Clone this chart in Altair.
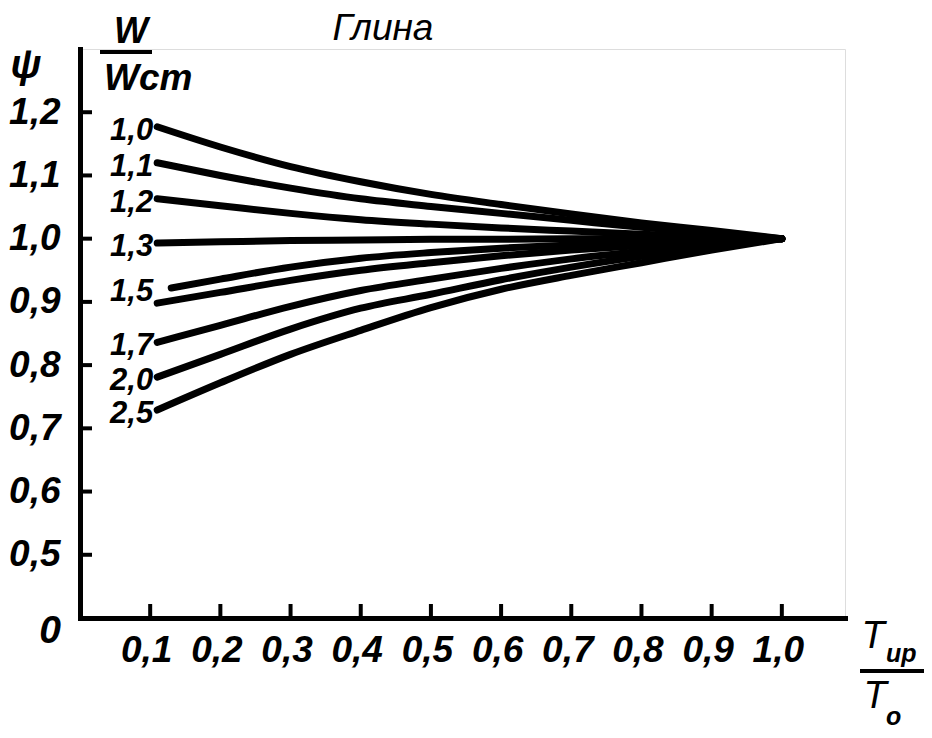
import altair as alt
import pandas as pd

# ---- data ----
x_ticks = [0.1, 0.2, 0.3, 0.4, 0.5, 0.6, 0.7, 0.8, 0.9, 1.0]
y_ticks = [0.5, 0.6, 0.7, 0.8, 0.9, 1.0, 1.1, 1.2]

series_keys = ["1,0", "1,1", "1,2", "1,3", "1,5", "1,6", "1,7", "2,0", "2,5"]
series_labels = ["1,0", "1,1", "1,2", "1,3", "1,5", "", "1,7", "2,0", "2,5"]

x_std = [0.11, 0.2, 0.3, 0.4, 0.5, 0.6, 0.7, 0.8, 0.9, 1.0]
x_late = [0.13, 0.2, 0.3, 0.4, 0.5, 0.6, 0.7, 0.8, 0.9, 1.0]

psi_10 = [1.177, 1.145, 1.114, 1.090, 1.070, 1.054, 1.039, 1.025, 1.013, 1.0]
psi_11 = [1.120, 1.100, 1.080, 1.063, 1.051, 1.040, 1.029, 1.018, 1.009, 1.0]
psi_12 = [1.063, 1.052, 1.040, 1.030, 1.023, 1.017, 1.012, 1.007, 1.003, 1.0]
psi_13 = [0.993, 0.995, 0.997, 0.998, 0.999, 0.999, 1.000, 1.000, 1.000, 1.0]
psi_15 = [0.922, 0.936, 0.955, 0.969, 0.978, 0.985, 0.990, 0.994, 0.997, 1.0]
psi_16 = [0.898, 0.915, 0.934, 0.950, 0.962, 0.973, 0.982, 0.989, 0.995, 1.0]
psi_17 = [0.836, 0.863, 0.893, 0.918, 0.936, 0.953, 0.968, 0.980, 0.991, 1.0]
psi_20 = [0.781, 0.817, 0.857, 0.890, 0.912, 0.935, 0.955, 0.972, 0.987, 1.0]
psi_25 = [0.729, 0.772, 0.817, 0.855, 0.891, 0.920, 0.942, 0.962, 0.982, 1.0]

series_x = [x_std, x_std, x_std, x_std, x_late, x_std, x_std, x_std, x_std]
series_y = [psi_10, psi_11, psi_12, psi_13, psi_15, psi_16, psi_17, psi_20, psi_25]

title_text = "Глина"
y_title = "ψ"
ratio_top = "W"
ratio_bottom = "Wст"
xr_top = "T"
xr_top_sub = "ир"
xr_bottom = "T"
xr_bottom_sub = "о"
zero_label = "0"

# ---- tables ----
rows = []
for k, xs, ys in zip(series_keys, series_x, series_y):
    for i, (xv, yv) in enumerate(zip(xs, ys)):
        rows.append({"series": k, "order": i, "x": xv, "psi": yv})
df = pd.DataFrame(rows)

lab_rows = []
for k, lab, xs, ys in zip(series_keys, series_labels, series_x, series_y):
    if lab:
        lab_rows.append({"label": lab, "psi": ys[0]})
df_lab = pd.DataFrame(lab_rows)

df_xt = pd.DataFrame({"x": x_ticks})
df_yt = pd.DataFrame({"psi": y_ticks})

FONT = "Liberation Sans, Arial, sans-serif"
FS = 37

x_scale = alt.Scale(domain=[0, 1.09], nice=False, zero=False)
y_scale = alt.Scale(domain=[0.4, 1.3], nice=False, zero=False)
label_expr = "replace(format(datum.value, '.1f'), '.', ',')"

x_axis = alt.Axis(values=x_ticks, labelExpr=label_expr, title=None, grid=False,
                  ticks=False, domainWidth=5, domainColor="black", domainCap="square",
                  labelFont=FONT, labelFontSize=FS, labelFontStyle="italic",
                  labelFontWeight="bold", labelColor="black", labelPadding=14,
                  labelFlush=False, labelOverlap=False, labelOffset=-4)
y_axis = alt.Axis(values=y_ticks, labelExpr=label_expr, title=None, grid=False,
                  ticks=False, domainWidth=5, domainColor="black", domainCap="square",
                  labelFont=FONT, labelFontSize=FS, labelFontStyle="italic",
                  labelFontWeight="bold", labelColor="black", labelPadding=20,
                  labelFlush=False, labelOverlap=False, labelBaseline="middle")

lines = alt.Chart(df).mark_line(color="black", strokeWidth=7, strokeCap="round",
                                interpolate="monotone").encode(
    x=alt.X("x:Q", scale=x_scale, axis=x_axis),
    y=alt.Y("psi:Q", scale=y_scale, axis=y_axis),
    detail="series:N",
    order="order:Q",
)

xticks = alt.Chart(df_xt).mark_rule(color="black", strokeWidth=4).encode(
    x=alt.X("x:Q", scale=x_scale),
    y=alt.value(569), y2=alt.value(555),
)
yticks = alt.Chart(df_yt).mark_rule(color="black", strokeWidth=4).encode(
    y=alt.Y("psi:Q", scale=y_scale),
    x=alt.value(0), x2=alt.value(12),
)

curve_labels = alt.Chart(df_lab).mark_text(
    font=FONT, fontSize=31, fontStyle="italic", fontWeight="bold", color="black",
    align="right", baseline="middle", dx=3, dy=4,
).encode(
    x=alt.X("xa:Q", scale=x_scale),
    y=alt.Y("psi:Q", scale=y_scale),
    text="label:N",
).transform_calculate(xa="0.1")

zero_txt = alt.Chart(pd.DataFrame({"t": [zero_label], "x": [0.0], "psi": [0.4]})).mark_text(
    font=FONT, fontSize=39, fontStyle="italic", fontWeight="bold", color="black",
    align="center", baseline="middle", dx=-30, dy=13,
).encode(x=alt.X("x:Q", scale=x_scale), y=alt.Y("psi:Q", scale=y_scale), text="t:N")


def txt(s, x, y, size, weight="normal", align="center", baseline="middle"):
    return alt.Chart(pd.DataFrame({"t": [s]})).mark_text(
        font=FONT, fontSize=size, fontStyle="italic", fontWeight=weight, color="black",
        align=align, baseline=baseline,
    ).encode(x=alt.value(x), y=alt.value(y), text="t:N")


def bar(x1, x2, y, w=4):
    return alt.Chart(pd.DataFrame({"t": [0]})).mark_rule(color="black", strokeWidth=w).encode(
        x=alt.value(x1), x2=alt.value(x2), y=alt.value(y))


deco = [
    txt(title_text, 303, -20, 37),
    txt(y_title, -54, 17, 40, "bold"),
    txt(ratio_top, 51, -17, 36, "bold"),
    bar(20, 72, 3),
    txt(ratio_bottom, 24, 30, 37, "bold", align="left"),
    txt(xr_top, 793, 588, 38, "normal"),
    txt(xr_top_sub, 806, 605, 25, "bold", align="left"),
    bar(780, 845, 622),
    txt(xr_bottom, 795, 648, 38, "normal"),
    txt(xr_bottom_sub, 806, 668, 25, "bold", align="left"),
]

chart = alt.layer(lines, xticks, yticks, curve_labels, zero_txt, *deco).properties(
    width=765, height=569,
    padding={"left": 72, "top": 41, "right": 79, "bottom": 115},
    autosize="none",
).configure_view(stroke=None).configure(background="white")

chart.save("out.html", embed_options={"renderer": "svg", "actions": False})
